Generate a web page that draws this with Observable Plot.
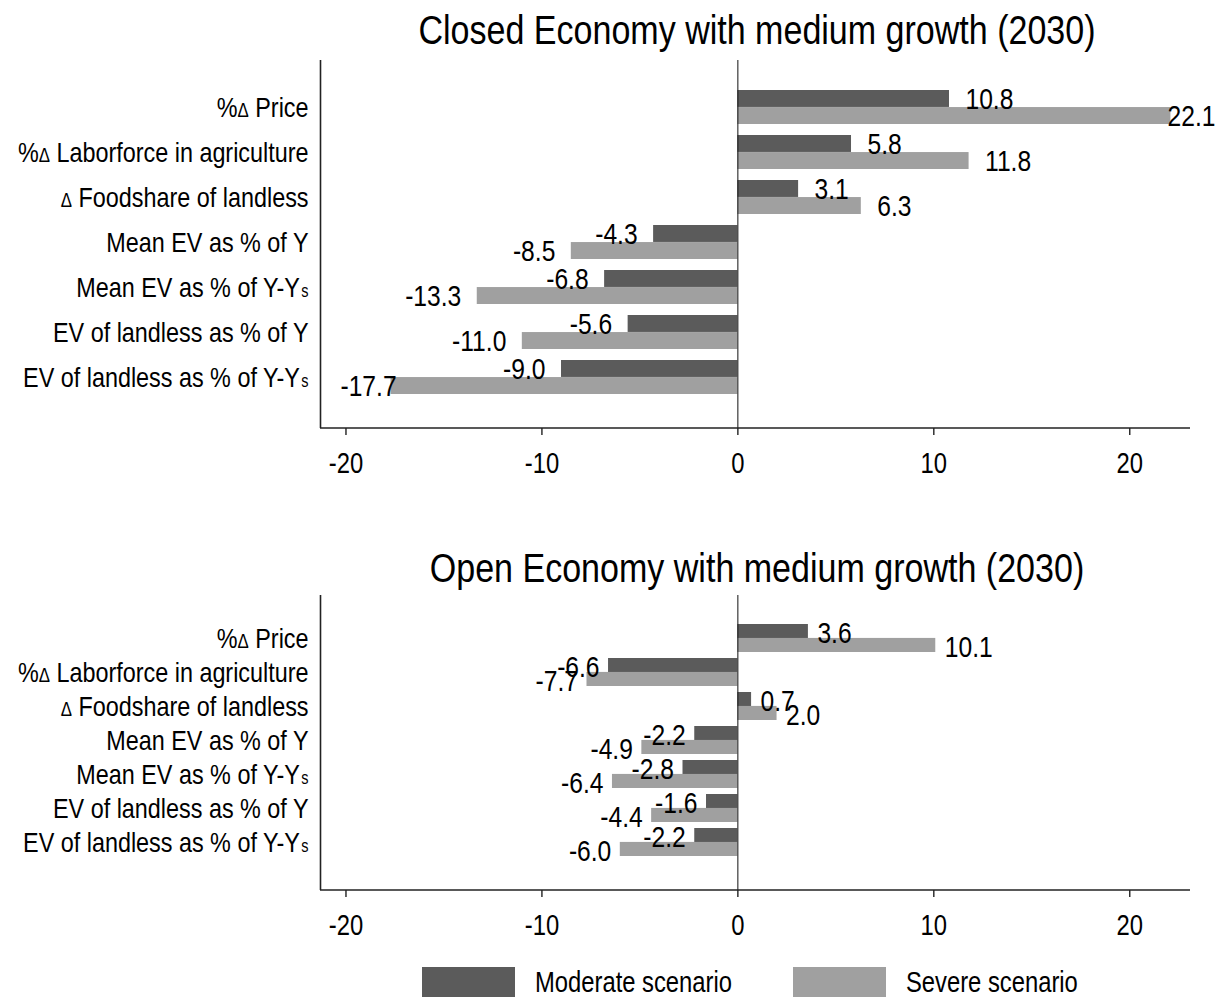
<!DOCTYPE html>
<html>
<head>
<meta charset="utf-8">
<script src="https://cdn.jsdelivr.net/npm/d3@7"></script>
<script src="https://cdn.jsdelivr.net/npm/@observablehq/plot@0.6"></script>
<style>
  html, body { margin: 0; padding: 0; background: #fff; }
  body { width: 1227px; height: 999px; position: relative; overflow: hidden;
         font-family: "Liberation Sans", Arial, sans-serif; color: #000; }
  .panel { position: absolute; left: 0; z-index: 1; }
  .title { position: absolute; left: 757px; white-space: nowrap; z-index: 2;
           font-size: 41.5px; line-height: 1;
           transform: translateX(-50%) scaleX(0.82); transform-origin: 50% 50%; }
  .legend { position: absolute; top: 967px; height: 30px; display: flex; align-items: center; z-index: 2; }
  .sw { width: 93px; height: 30px; margin-right: 20px; flex: none; }
  .lt { font-size: 29px; line-height: 1; display: inline-block; transform: scaleX(0.82); transform-origin: 0 50%; white-space: nowrap; }
</style>
</head>
<body>
<div class="panel" id="p1" style="top:0px"></div>
<div class="panel" id="p2" style="top:540px"></div>
<div class="title" id="t1" style="top:9px">Closed Economy with medium growth (2030)</div>
<div class="title" id="t2" style="top:547px">Open Economy with medium growth (2030)</div>
<div class="legend" style="left:422px"><div class="sw" style="background:#5b5b5b"></div><span class="lt">Moderate scenario</span></div>
<div class="legend" style="left:793px"><div class="sw" style="background:#a0a0a0"></div><span class="lt">Severe scenario</span></div>
<script>
// ---- data ----
const categories = [
  "%Δ Price",
  "%Δ Laborforce in agriculture",
  "Δ Foodshare of landless",
  "Mean EV as % of Y",
  "Mean EV as % of Y-Ys",
  "EV of landless as % of Y",
  "EV of landless as % of Y-Ys"
];
const closedModerate = [10.8, 5.8, 3.1, -4.3, -6.8, -5.6, -9.0];
const closedSevere   = [22.1, 11.8, 6.3, -8.5, -13.3, -11.0, -17.7];
const openModerate   = [3.6, -6.6, 0.7, -2.2, -2.8, -1.6, -2.2];
const openSevere     = [10.1, -7.7, 2.0, -4.9, -6.4, -4.4, -6.0];
const xTicks = [-20, -10, 0, 10, 20];
const xDomain = [-21.3, 23.1];

const darkColor = "#5b5b5b";
const lightColor = "#a0a0a0";
const FONT = '"Liberation Sans", Arial, sans-serif';
const SQUEEZE = 0.82;
const LABEL_SIZE = 30;

const canvas = document.createElement("canvas");
const ctx = canvas.getContext("2d");
ctx.font = `${LABEL_SIZE}px ${FONT}`;
const measure = s => ctx.measureText(s).width * SQUEEZE;

function labelRows(rows, key, xs, gap, minX, maxX) {
  return rows.map(r => {
    const v = r[key];
    const txt = v.toFixed(1);
    const w = measure(txt);
    const px = xs.apply(v);
    let anchorPx, anchor;
    if (v >= 0) {
      let start = px + gap;
      if (start + w > maxX) start = maxX - w;
      anchorPx = start; anchor = "start";
    } else {
      let end = px - gap;
      if (end - w < minX) end = minX + w;
      anchorPx = end; anchor = "end";
    }
    return {category: r.category, lx: xs.invert(anchorPx), text: txt, anchor};
  });
}

function richify(svg) {
  d3.select(svg).selectAll("text").each(function() {
    const s = this.textContent;
    if (!categories.includes(s)) return;
    const segs = [];
    const base = s.endsWith("Y-Ys") ? s.slice(0, -1) : s;
    let buf = "";
    for (const ch of base) {
      if (ch === "Δ") { if (buf) segs.push([buf, null, 0]); buf = ""; segs.push(["Δ", "0.72em", 0]); }
      else buf += ch;
    }
    if (buf) segs.push([buf, null, 0]);
    if (base !== s) segs.push(["s", "0.62em", 1.5]);
    const sel = d3.select(this);
    sel.text("");
    for (const [t, fs, dx] of segs) {
      const ts = sel.append("tspan").text(t);
      if (fs) ts.attr("font-size", fs);
      if (dx) ts.attr("dx", dx);
    }
  });
}

// condense glyphs horizontally (the reference uses a narrow face)
function squeeze(svg) {
  d3.select(svg).selectAll("text").each(function() {
    const spans = this.querySelectorAll("tspan");
    const targets = spans.length ? Array.from(spans) : [this];
    const lens = targets.map(t => t.getComputedTextLength());
    targets.forEach((t, i) => {
      if (lens[i] > 0) {
        t.setAttribute("textLength", (lens[i] * SQUEEZE).toFixed(2));
        t.setAttribute("lengthAdjust", "spacingAndGlyphs");
      }
    });
  });
}

function panel(el, moderate, severe, o) {
  const rows = categories.map((c, i) => ({category: c, moderate: moderate[i], severe: severe[i]}));
  const xs = Plot.scale({x: {domain: xDomain, range: [320, 1190]}});
  const ys = Plot.scale({y: {type: "band", domain: categories, range: o.yRange, paddingInner: o.paddingInner, paddingOuter: 0}});
  const bw = ys.bandwidth;
  const modLabels = labelRows(rows, "moderate", xs, o.gap, 340, 1215);
  const sevLabels = labelRows(rows, "severe", xs, o.gap, 340, 1215);
  const textOpts = (dy) => ({x: "lx", y: "category", text: "text", fontSize: LABEL_SIZE, fill: "black", dy});
  const chart = Plot.plot({
    width: 1227,
    height: o.height,
    marginLeft: 320,
    marginRight: 37,
    marginTop: o.marginTop,
    marginBottom: o.marginBottom,
    style: {fontFamily: FONT, color: "black", background: "transparent", overflow: "visible"},
    x: {domain: xDomain, label: null},
    y: {domain: categories, range: o.yRange, paddingInner: o.paddingInner, paddingOuter: 0, label: null},
    marks: [
      Plot.barX(rows, {x: "moderate", y: "category", fill: darkColor, insetBottom: bw / 2}),
      Plot.barX(rows, {x: "severe", y: "category", fill: lightColor, insetTop: bw / 2}),
      Plot.ruleX([0], {stroke: "#111", strokeWidth: 1}),
      Plot.ruleX([xDomain[0]], {stroke: "#222", strokeWidth: 1.6}),
      Plot.text(modLabels.filter(d => d.anchor === "start"), {...textOpts(-bw / 4 + o.dy), textAnchor: "start"}),
      Plot.text(modLabels.filter(d => d.anchor === "end"), {...textOpts(-bw / 4 + o.dy), textAnchor: "end"}),
      Plot.text(sevLabels.filter(d => d.anchor === "start"), {...textOpts(bw / 4 + o.dy), textAnchor: "start"}),
      Plot.text(sevLabels.filter(d => d.anchor === "end"), {...textOpts(bw / 4 + o.dy), textAnchor: "end"}),
      Plot.axisX({ticks: xTicks, tickSize: 7, tickPadding: 17, fontSize: 29, stroke: "#222", strokeWidth: 1.4, tickFormat: d => String(d)}),
      Plot.axisY({tickSize: 0, tickPadding: 12, fontSize: 28.5})
    ]
  });
  const svg = chart;
  d3.select(svg).append("line")
    .attr("x1", 320).attr("x2", 1190)
    .attr("y1", o.height - o.marginBottom).attr("y2", o.height - o.marginBottom)
    .attr("stroke", "#222").attr("stroke-width", 1.6);
  richify(svg);
  el.appendChild(svg);
  squeeze(svg);
}

panel(document.getElementById("p1"), closedModerate, closedSevere,
  {height: 490, marginTop: 60, marginBottom: 62, yRange: [88, 395], paddingInner: 0.25, gap: 16, dy: 0});
panel(document.getElementById("p2"), openModerate, openSevere,
  {height: 400, marginTop: 55, marginBottom: 50, yRange: [83, 317], paddingInner: 0.19, gap: 9, dy: 2});
</script>
</body>
</html>
